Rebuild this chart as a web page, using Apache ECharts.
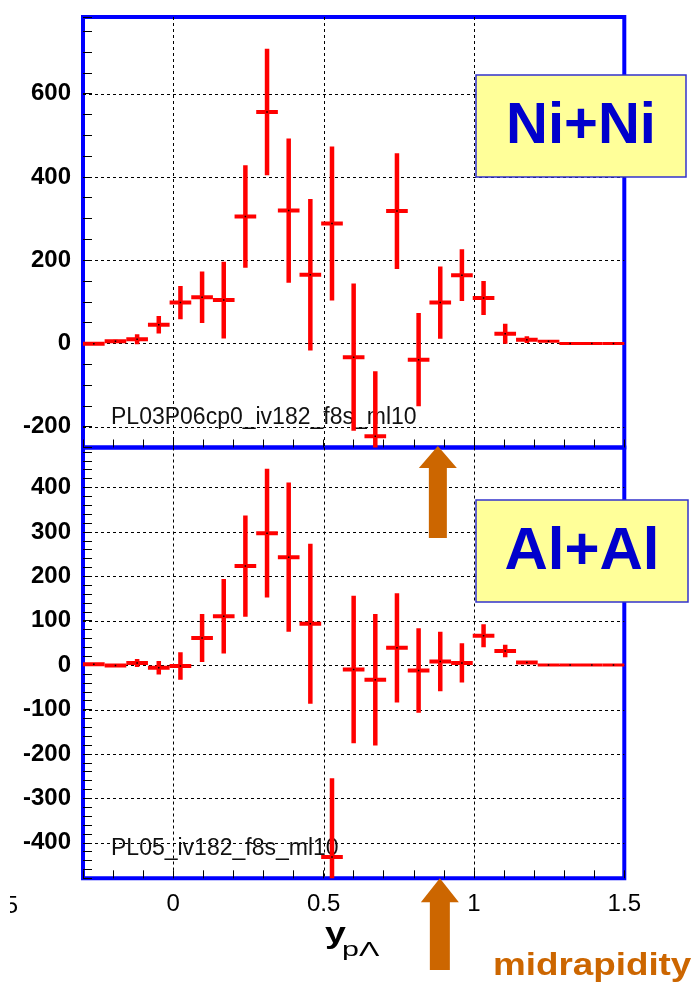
<!DOCTYPE html>
<html>
<head>
<meta charset="utf-8">
<script src="https://cdn.jsdelivr.net/npm/echarts@6/dist/echarts.min.js"></script>
<style>
  html, body { margin: 0; padding: 0; background: #ffffff; }
  #chart { width: 700px; height: 993px; }
</style>
</head>
<body>
<div id="chart"></div>
<script>
// p-Lambda pair yield vs. pair rapidity, 25 bins on [-0.3, 1.5]
const binCenters = [-0.264, -0.192, -0.12, -0.048, 0.024, 0.096, 0.168, 0.24, 0.312, 0.384,
                    0.456, 0.528, 0.6, 0.672, 0.744, 0.816, 0.888, 0.96, 1.032, 1.104,
                    1.176, 1.248, 1.32, 1.392, 1.464];
const binWidth = 0.072;

// Ni+Ni
const niNiCounts = [-1, 5, 10, 45, 98, 111, 104, 305, 556, 319,
                    165, 288, -33, -223, 318, -39, 98, 164, 109, 23,
                    9, 5, 0, 0, 0];
const niNiErrors = [3, 4, 12, 21, 40, 62, 92, 123, 152, 173,
                    182, 185, 177, 156, 139, 112, 87, 62, 41, 24,
                    8, 0, 0, 0, 0];

// Al+Al
const alAlCounts = [2, -1, 5, -6, -2, 61, 110, 223, 297, 243,
                    93, -432, -10, -33, 39, -12, 8, 5, 66, 32,
                    6, 0, 0, 0, 0];
const alAlErrors = [2, 2, 9, 15, 31, 54, 84, 114, 145, 168,
                    180, 177, 166, 148, 123, 95, 67, 44, 26, 14,
                    3, 0, 0, 0, 0];

// axis labels
const xTickLabels = [0, 0.5, 1, 1.5];
const niNiTickLabels = [-200, 0, 200, 400, 600];
const alAlTickLabels = [-400, -300, -200, -100, 0, 100, 200, 300, 400];

const midrapidity = 0.88;

const FONT = '"Liberation Sans", Arial, Helvetica, sans-serif';
const RED = '#ff0000';
const ORANGE = '#cc6600';

const chart = echarts.init(document.getElementById('chart'), null, { renderer: 'canvas' });

function histogramSeries(idx, counts, errors) {
  return {
    type: 'custom',
    xAxisIndex: idx,
    yAxisIndex: idx,
    clip: true,
    z: 3,
    data: binCenters.map((x, i) => [x, counts[i], errors[i]]),
    renderItem(params, api) {
      const x = api.value(0), y = api.value(1), e = api.value(2);
      const l = api.coord([x - binWidth / 2, y]);
      const r = api.coord([x + binWidth / 2, y]);
      const c = api.coord([x, y]);
      const children = [{
        type: 'line',
        shape: { x1: l[0], y1: l[1], x2: r[0], y2: r[1] },
        style: { stroke: RED, lineWidth: e > 0 ? 4 : 3 }
      }];
      if (e > 0) {
        const top = api.coord([x, y + e]);
        const bot = api.coord([x, y - e]);
        children.push({
          type: 'line',
          shape: { x1: top[0], y1: top[1], x2: bot[0], y2: bot[1] },
          style: { stroke: RED, lineWidth: 4.5 }
        });
      }
      children.push({
        type: 'rect',
        shape: { x: c[0] - 0.75, y: c[1] - 0.75, width: 1.5, height: 1.5 },
        style: { fill: '#000000' }
      });
      return { type: 'group', children };
    }
  };
}

// dashed grid: 0 = vertical line at x value, 1 = horizontal line at y value
function gridLineSeries(idx, yLabels) {
  const data = [];
  xTickLabels.filter(v => v > -0.3 && v < 1.5).forEach(v => data.push([0, v]));
  yLabels.forEach(v => data.push([1, v]));
  return {
    type: 'custom',
    xAxisIndex: idx,
    yAxisIndex: idx,
    silent: true,
    z: 1,
    data,
    renderItem(params, api) {
      const cs = params.coordSys;
      const kind = api.value(0), v = api.value(1);
      let shape;
      if (kind === 0) {
        const px = Math.round(api.coord([v, 0])[0]) + 0.5;
        shape = { x1: px, y1: cs.y, x2: px, y2: cs.y + cs.height };
      } else {
        const py = Math.round(api.coord([0, v])[1]) + 0.5;
        shape = { x1: cs.x, y1: py, x2: cs.x + cs.width, y2: py };
      }
      return {
        type: 'line', shape,
        style: { stroke: '#000000', lineWidth: 1, lineDash: [3, 3] }
      };
    }
  };
}

function isIn(list, v) {
  return list.some(t => Math.abs(t - v) < 1e-6);
}

const xAxisCommon = {
  type: 'value',
  min: -0.3,
  max: 1.5,
  interval: 0.1,
  position: 'bottom',
  axisLine: { show: false, onZero: false },
  axisTick: { show: true, inside: true, length: 8, lineStyle: { color: '#000000', width: 1 } },
  splitLine: { show: false }
};

const yAxisCommon = {
  type: 'value',
  position: 'left',
  axisLine: { show: false, onZero: false },
  axisTick: { show: true, inside: true, length: 9, lineStyle: { color: '#000000', width: 1 } },
  splitLine: { show: false }
};

chart.setOption({
  animation: false,
  backgroundColor: '#ffffff',
  grid: [
    { left: 83, top: 17, right: 75.7, height: 430.5, show: true, borderColor: '#0000ff', borderWidth: 4, backgroundColor: 'transparent' },
    { left: 83, top: 447.5, right: 75.7, height: 430.8, show: true, borderColor: '#0000ff', borderWidth: 4, backgroundColor: 'transparent' }
  ],
  xAxis: [
    Object.assign({}, xAxisCommon, { gridIndex: 0, axisLabel: { show: false } }),
    Object.assign({}, xAxisCommon, {
      gridIndex: 1,
      axisLabel: {
        show: true, margin: 14, fontSize: 24, fontFamily: FONT, color: '#000000',
        showMinLabel: true, showMaxLabel: true,
        formatter: v => isIn(xTickLabels, v) ? String(Math.round(v * 10) / 10) : ''
      }
    })
  ],
  yAxis: [
    Object.assign({}, yAxisCommon, {
      gridIndex: 0, min: -250, max: 784, interval: 50,
      axisLabel: {
        margin: 12, fontSize: 24, fontWeight: 'bold', fontFamily: FONT, color: '#000000',
        formatter: v => isIn(niNiTickLabels, v) ? String(v) : ''
      }
    }),
    Object.assign({}, yAxisCommon, {
      gridIndex: 1, min: -480, max: 490, interval: 20,
      axisLabel: {
        margin: 12, fontSize: 24, fontWeight: 'bold', fontFamily: FONT, color: '#000000',
        formatter: v => isIn(alAlTickLabels, v) ? String(v) : ''
      }
    })
  ],
  series: [
    gridLineSeries(0, niNiTickLabels),
    gridLineSeries(1, alAlTickLabels),
    histogramSeries(0, niNiCounts, niNiErrors),
    histogramSeries(1, alAlCounts, alAlErrors)
  ]
});

// annotations: run labels, system boxes, midrapidity arrows, axis title
const midX = chart.convertToPixel({ xAxisIndex: 1 }, midrapidity);
const upperFrameBottom = chart.convertToPixel({ yAxisIndex: 0 }, -250);
const lowerFrameBottom = chart.convertToPixel({ yAxisIndex: 1 }, -480);

function arrow(tipX, tipY, headLen, headHalf, shaftHalf, bottomY) {
  return {
    type: 'polygon',
    z: 20,
    silent: true,
    shape: {
      points: [
        [tipX, tipY],
        [tipX + headHalf, tipY + headLen],
        [tipX + shaftHalf, tipY + headLen],
        [tipX + shaftHalf, bottomY],
        [tipX - shaftHalf, bottomY],
        [tipX - shaftHalf, tipY + headLen],
        [tipX - headHalf, tipY + headLen]
      ]
    },
    style: { fill: ORANGE }
  };
}

function textEl(text, x, y, font, fill, align, z, scaleX) {
  return {
    type: 'text', x, y, z: z || 2, silent: true,
    scaleX: scaleX || 1,
    style: { text, font, fill, align: align || 'left', verticalAlign: 'middle' }
  };
}

function systemBox(x, y, w, h, label, fontSize) {
  return [
    {
      type: 'rect', z: 15, silent: true,
      shape: { x, y, width: w, height: h },
      style: { fill: '#ffff99', stroke: '#3333cc', lineWidth: 1.5 }
    },
    {
      type: 'text', z: 16, silent: true,
      x: x + w / 2, y: y + h / 2 + 1,
      style: {
        text: label, font: 'bold ' + fontSize + 'px ' + FONT, fill: '#0000cc',
        align: 'center', verticalAlign: 'middle'
      }
    }
  ];
}

chart.setOption({
  graphic: [
    textEl('PL03P06cp0_iv182_f8s_ml10', 111, 418, '23px ' + FONT, '#111111'),
    textEl('PL05_iv182_f8s_ml10', 111, 849, '23px ' + FONT, '#111111'),
    ...systemBox(476, 75, 210, 102, 'Ni+Ni', 58),
    ...systemBox(476, 500, 212, 102, 'Al+Al', 60),
    arrow(midX, upperFrameBottom - 1.5, 22, 19, 9, 538),
    arrow(midX + 2, lowerFrameBottom, 24, 19, 10, 970),
    textEl('-0.5', 18, 906, '24px ' + FONT, '#000000', 'right', 5),
    {
      type: 'rect', z: 6, silent: true,
      shape: { x: 0, y: 890, width: 10, height: 32 },
      style: { fill: '#ffffff' }
    },
    textEl('y', 325, 935, 'bold 30px ' + FONT, '#000000', 'left', 5, 1.25),
    textEl('p\u039b', 342, 950, '21px ' + FONT, '#000000', 'left', 5, 1.45),
    textEl('midrapidity', 493, 966, 'bold 32px ' + FONT, ORANGE, 'left', 20, 1.15)
  ]
});
</script>
</body>
</html>
